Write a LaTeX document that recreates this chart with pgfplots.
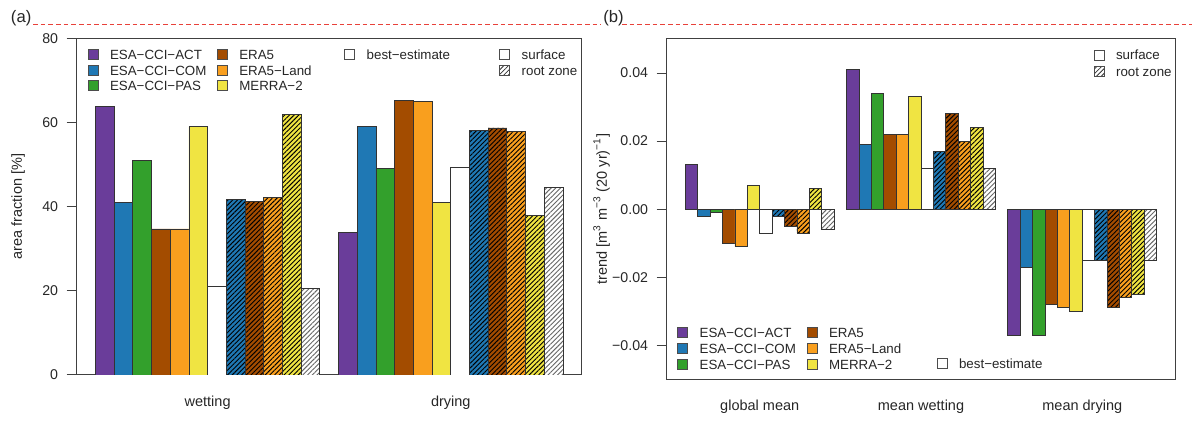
\documentclass[border=0pt]{standalone}
\usepackage{fontspec}
\setmainfont{Liberation Sans}
\usepackage{pgfplots}
\pgfplotsset{compat=1.18}
\usetikzlibrary{patterns.meta}

\definecolor{cACT}{HTML}{6A3D9A}
\definecolor{cCOM}{HTML}{1F78B4}
\definecolor{cPAS}{HTML}{33A02C}
\definecolor{cERA}{HTML}{A34C00}
\definecolor{cLAND}{HTML}{F99F1E}
\definecolor{cMER}{HTML}{F0E442}
\definecolor{cAX}{HTML}{404040}
\definecolor{cRED}{HTML}{E8413A}

\newcommand{\tickfont}{\fontsize{8.5pt}{10pt}\selectfont}
\newcommand{\catfont}{\fontsize{8.7pt}{10pt}\selectfont}
\newcommand{\legfont}{\fontsize{8pt}{9.5pt}\selectfont}
\newcommand{\panfont}{\fontsize{10pt}{12pt}\selectfont}

\pgfplotsset{
  mybar/.style={ybar, bar width=1, bar shift=0pt, draw=black!80, line width=0.5pt},
  surf/.style={mybar, fill=#1},
  root/.style={mybar, fill=#1, postaction={pattern={Lines[angle=45,distance=2pt,line width=0.55pt]}, pattern color=black}},
  rootw/.style={mybar, fill=white, postaction={pattern={Lines[angle=45,distance=2pt,line width=0.55pt]}, pattern color=black!60}},
  geomA/.style={scale only axis, width=303pt, height=202.02pt, at={(46.02pt,31.8pt)}, anchor=south west},
  geomB/.style={scale only axis, width=305.16pt, height=204.18pt, at={(400.02pt,29.22pt)}, anchor=south west},
  panel/.style={
    axis line style={cAX, line width=0.6pt},
    xtick align=inside, ytick align=outside, major tick length=6pt,
    ytick pos=left, scaled y ticks=false,
    xtick style={draw=none}, ytick style={cAX, line width=0.6pt},
    yticklabel style={font=\tickfont, inner sep=0pt, anchor=east, xshift=-5pt, text=black!85},
    xticklabel style={font=\catfont, inner sep=0pt, anchor=base, yshift=-19pt, text=black!85},
  },
  sq/.style={legend image code/.code={
      \draw[##1, draw=black!70, line width=0.5pt] (0pt,0pt) rectangle (6pt,6pt);}},
  legaxis/.style={hide axis, xmin=0, xmax=1, ymin=0, ymax=1,
    legend style={draw=none, fill=none, inner sep=0pt, outer sep=0pt, anchor=north west,
      column sep=6.9pt, row sep=1pt, cells={anchor=base west},
      nodes={inner sep=0pt, text height=6pt, text depth=2pt, font=\legfont, text=black!85}}},
}

\begin{document}
\begin{tikzpicture}
\path[use as bounding box] (0pt,0pt) rectangle (715.2pt,256.8pt);

% panel labels and dashed line
\draw[cRED, line width=0.6pt, dash pattern=on 2.8pt off 1.8pt] (19.8pt,241.8pt) -- (360.6pt,241.8pt);
\draw[cRED, line width=0.6pt, dash pattern=on 2.8pt off 1.8pt] (373.2pt,241.8pt) -- (715.2pt,241.8pt);
\node[anchor=base west, inner sep=0pt, font=\panfont, text=black!85] at (6.4pt,243pt) {(a)};
\node[anchor=base west, inner sep=0pt, font=\panfont, text=black!85] at (361.8pt,243pt) {(b)};

% ---------------- panel (a) ----------------
\begin{axis}[geomA, panel,
  xmin=0, xmax=27, ymin=0, ymax=80,
  xtick={7,20}, xticklabels={wetting,drying},
  ytick={0,20,40,60,80}, yticklabels={0,20,40,60,80},
  ylabel={area fraction [\%]},
  every axis y label/.style={at={(axis description cs:-0.1162,0.5)}, rotate=90, anchor=center, font=\catfont, text=black!85},
]
\addplot[surf=cACT]  coordinates {(1.5,63.8) (14.5,33.9)};
\addplot[surf=cCOM]  coordinates {(2.5,40.9) (15.5,59.1)};
\addplot[surf=cPAS]  coordinates {(3.5,50.9) (16.5,49.0)};
\addplot[surf=cERA]  coordinates {(4.5,34.7) (17.5,65.2)};
\addplot[surf=cLAND] coordinates {(5.5,34.7) (18.5,65.1)};
\addplot[surf=cMER]  coordinates {(6.5,59.0) (19.5,40.9)};
\addplot[surf=white] coordinates {(7.5,21.0) (20.5,49.3)};
\addplot[root=cCOM]  coordinates {(8.5,41.8) (21.5,58.2)};
\addplot[root=cERA]  coordinates {(9.5,41.3) (22.5,58.7)};
\addplot[root=cLAND] coordinates {(10.5,42.2) (23.5,57.8)};
\addplot[root=cMER]  coordinates {(11.5,62.0) (24.5,37.9)};
\addplot[rootw]      coordinates {(12.5,20.6) (25.5,44.5)};
\end{axis}

\begin{axis}[geomA, legaxis, legend style={at={(0.0218,0.9676)}}]
\addlegendimage{sq, fill=cACT}\addlegendentry{ESA−CCI−ACT}
\addlegendimage{sq, fill=cCOM}\addlegendentry{ESA−CCI−COM}
\addlegendimage{sq, fill=cPAS}\addlegendentry{ESA−CCI−PAS}
\end{axis}
\begin{axis}[geomA, legaxis, legend style={at={(0.2778,0.9676)}}]
\addlegendimage{sq, fill=cERA}\addlegendentry{ERA5}
\addlegendimage{sq, fill=cLAND}\addlegendentry{ERA5−Land}
\addlegendimage{sq, fill=cMER}\addlegendentry{MERRA−2}
\end{axis}
\begin{axis}[geomA, legaxis, legend style={at={(0.5301,0.9676)}}]
\addlegendimage{sq, fill=white}\addlegendentry{best−estimate}
\end{axis}
\begin{axis}[geomA, legaxis, legend style={at={(0.8370,0.9676)}}]
\addlegendimage{sq, fill=white}\addlegendentry{surface}
\addlegendimage{sq, fill=white, postaction={pattern={Lines[angle=45,distance=2pt,line width=0.5pt]}, pattern color=black!80}}\addlegendentry{root zone}
\end{axis}

% ---------------- panel (b) ----------------
\begin{axis}[geomB, panel,
  xmin=0, xmax=41, ymin=-0.05, ymax=0.05,
  xtick={7.5,20.5,33.5}, xticklabels={global mean,mean wetting,mean drying},
  ytick={-0.04,-0.02,0,0.02,0.04}, yticklabels={−0.04,−0.02,0.00,0.02,0.04},
  ylabel={trend [m\textsuperscript{3} m\textsuperscript{−3} (20 yr)\textsuperscript{−1}]},
  every axis y label/.style={at={(axis description cs:-0.128,0.5)}, rotate=90, anchor=center, font=\catfont, text=black!85},
]
\addplot[surf=cACT]  coordinates {(2,0.013) (15,0.041) (28,-0.037)};
\addplot[surf=cCOM]  coordinates {(3,-0.002) (16,0.019) (29,-0.017)};
\addplot[surf=cPAS]  coordinates {(4,-0.001) (17,0.034) (30,-0.037)};
\addplot[surf=cERA]  coordinates {(5,-0.010) (18,0.022) (31,-0.028)};
\addplot[surf=cLAND] coordinates {(6,-0.011) (19,0.022) (32,-0.029)};
\addplot[surf=cMER]  coordinates {(7,0.007) (20,0.033) (33,-0.030)};
\addplot[surf=white] coordinates {(8,-0.007) (21,0.012) (34,-0.015)};
\addplot[root=cCOM]  coordinates {(9,-0.002) (22,0.017) (35,-0.015)};
\addplot[root=cERA]  coordinates {(10,-0.005) (23,0.028) (36,-0.029)};
\addplot[root=cLAND] coordinates {(11,-0.007) (24,0.020) (37,-0.026)};
\addplot[root=cMER]  coordinates {(12,0.006) (25,0.024) (38,-0.025)};
\addplot[rootw]      coordinates {(13,-0.006) (26,0.012) (39,-0.015)};
\end{axis}

\begin{axis}[geomB, legaxis, legend style={at={(0.0208,0.1528)}, row sep=1.3pt}]
\addlegendimage{sq, fill=cACT}\addlegendentry{ESA−CCI−ACT}
\addlegendimage{sq, fill=cCOM}\addlegendentry{ESA−CCI−COM}
\addlegendimage{sq, fill=cPAS}\addlegendentry{ESA−CCI−PAS}
\end{axis}
\begin{axis}[geomB, legaxis, legend style={at={(0.2753,0.1528)}, row sep=1.3pt}]
\addlegendimage{sq, fill=cERA}\addlegendentry{ERA5}
\addlegendimage{sq, fill=cLAND}\addlegendentry{ERA5−Land}
\addlegendimage{sq, fill=cMER}\addlegendentry{MERRA−2}
\end{axis}
\begin{axis}[geomB, legaxis, legend style={at={(0.5309,0.0635)}}]
\addlegendimage{sq, fill=white}\addlegendentry{best−estimate}
\end{axis}
\begin{axis}[geomB, legaxis, legend style={at={(0.8396,0.9691)}, row sep=1.6pt}]
\addlegendimage{sq, fill=white}\addlegendentry{surface}
\addlegendimage{sq, fill=white, postaction={pattern={Lines[angle=45,distance=2pt,line width=0.5pt]}, pattern color=black!80}}\addlegendentry{root zone}
\end{axis}
\end{tikzpicture}
\end{document}
